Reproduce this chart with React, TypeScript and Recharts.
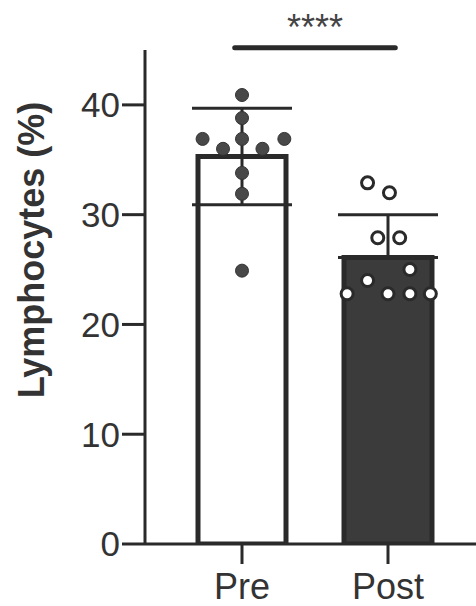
import React from 'react';
import { ComposedChart, Bar, Cell, ErrorBar, XAxis, YAxis, Scatter, ReferenceLine, Label } from 'recharts';

const categories = ['Pre', 'Post'];
const means = [35.3, 26.1];
const errLow = [4.4, 0];
const errHigh = [4.4, 3.9];
const preValues = [40.9, 38.8, 36.9, 36.9, 36.9, 36.0, 36.0, 33.8, 31.9, 24.9];
const preJitter = [0, 0, -0.27, 0, 0.29, -0.13, 0.14, 0, 0, 0];
const postValues = [32.9, 32.0, 27.9, 27.9, 25.0, 24.0, 22.8, 22.8, 22.8, 22.8];
const postJitter = [-0.14, 0.01, -0.07, 0.08, 0.15, -0.14, -0.28, 0, 0.15, 0.29];
const yTicks = [0, 10, 20, 30, 40];
const yDomain = [0, 45];
const yLabel = 'Lymphocytes (%)';
const sigLabel = '****';
const sigY = 45.2;
const sigSpan = [-0.05, 1.05];

const barData = categories.map((c, i) => ({ name: c, mean: means[i], err: [errLow[i], errHigh[i]] }));
const preData = preValues.map((v, i) => ({ x: 0 + preJitter[i], y: v }));
const postData = postValues.map((v, i) => ({ x: 1 + postJitter[i], y: v }));

const INK = '#2a2a2a';
const TEXT = '#333333';
const FONT = '"Liberation Sans", Arial, sans-serif';

const PreDot = (props: any) => (
  <circle cx={props.cx} cy={props.cy} r={6.5} fill="#484848" stroke="#333" strokeWidth={1} />
);
const PostDot = (props: any) => (
  <circle cx={props.cx} cy={props.cy} r={6} fill="#ffffff" stroke={INK} strokeWidth={3} />
);

const YLabel = (props: any) => {
  const vb = props.viewBox || { x: 0, y: 50, width: 145, height: 494 };
  const bx = vb.x + 44;
  const cy = vb.y + vb.height / 2 - 47;
  return (
    <text
      transform={`translate(${bx}, ${cy}) rotate(-90)`}
      textAnchor="middle"
      fontSize={36}
      fontWeight="bold"
      fontFamily={FONT}
      fill={TEXT}
    >
      {yLabel}
    </text>
  );
};

export default function App() {
  return (
    <div style={{ position: 'absolute', left: 0, top: 0, background: '#fff' }}>
      <ComposedChart
        width={476}
        height={606}
        data={barData}
        margin={{ top: 50, right: 0, bottom: 0, left: 0 }}
      >
        <XAxis
          xAxisId="cat"
          dataKey="name"
          type="category"
          height={62}
          padding={{ left: 24, right: 15 }}
          axisLine={{ stroke: INK, strokeWidth: 3 }}
          tickLine={{ stroke: INK, strokeWidth: 3 }}
          tickSize={20}
          tickMargin={9}
          tick={{ fontSize: 36, fill: TEXT, fontFamily: FONT }}
        />
        <XAxis
          xAxisId="num"
          dataKey="x"
          type="number"
          domain={[-0.5, 1.5]}
          allowDataOverflow
          padding={{ left: 24, right: 15 }}
          hide
        />
        <YAxis
          width={145}
          domain={yDomain}
          ticks={yTicks}
          type="number"
          allowDataOverflow
          axisLine={{ stroke: INK, strokeWidth: 3 }}
          tickLine={{ stroke: INK, strokeWidth: 3 }}
          tickSize={23}
          tickMargin={2}
          tick={{ fontSize: 35, fill: TEXT, fontFamily: FONT }}
        >
          <Label content={<YLabel />} />
        </YAxis>
        <Bar
          xAxisId="cat"
          dataKey="mean"
          barSize={88}
          strokeWidth={5}
          isAnimationActive={false}
        >
          <Cell fill="#ffffff" stroke={INK} />
          <Cell fill="#3b3b3b" stroke={INK} />
          <ErrorBar dataKey="err" width={50} stroke={INK} strokeWidth={3} direction="y" />
        </Bar>
        <Scatter
          xAxisId="num"
          data={preData}
          dataKey="y"
          shape={<PreDot />}
          isAnimationActive={false}
        />
        <Scatter
          xAxisId="num"
          data={postData}
          dataKey="y"
          shape={<PostDot />}
          isAnimationActive={false}
        />
        <ReferenceLine
          xAxisId="num"
          segment={[
            { x: sigSpan[0], y: sigY },
            { x: sigSpan[1], y: sigY },
          ]}
          stroke={INK}
          strokeWidth={5}
          strokeLinecap="round"
          ifOverflow="visible"
          label={{ value: sigLabel, position: 'top', offset: 8, fontSize: 36, fill: '#444', fontFamily: FONT }}
        />
      </ComposedChart>
    </div>
  );
}
